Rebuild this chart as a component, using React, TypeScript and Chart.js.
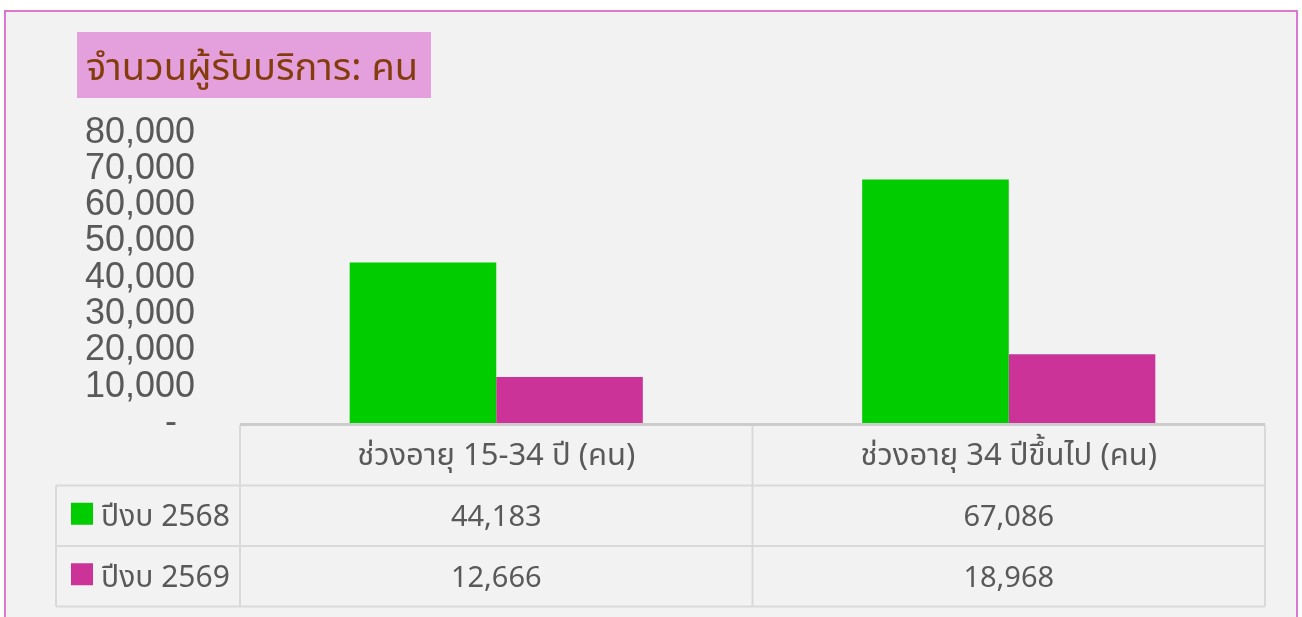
import React, { useEffect, useRef } from "react";
import { Chart, registerables } from "chart.js";

Chart.register(...registerables);

const categories = ["ช่วงอายุ 15-34 ปี (คน)", "ช่วงอายุ 34 ปีขึ้นไป (คน)"];
const seriesLabels = ["ปีงบ 2568", "ปีงบ 2569"];
const values2568 = [44183, 67086];
const values2569 = [12666, 18968];
const seriesColors = ["#00cc00", "#cc3399"];
const titleText = "จำนวนผู้รับบริการ: คน";
const yMax = 80000;
const yStep = 10000;

const THAI = "'Noto Sans', 'Noto Sans Thai', 'Noto Sans Thai UI', 'Noto Sans Thai Looped', Garuda, Loma, Kinnari, Waree, Norasi, 'Tlwg Typo', sans-serif";

const fmt = (v: number) => v.toLocaleString("en-US");

const decorPlugin = {
  id: "decor",
  beforeDraw(chart: any) {
    const ctx = chart.ctx;
    ctx.save();
    ctx.fillStyle = "#ffffff";
    ctx.fillRect(0, 0, chart.width, chart.height);
    ctx.fillStyle = "#f2f2f2";
    ctx.fillRect(5, 11, 1292, 620);
    ctx.strokeStyle = "#dc77d6";
    ctx.lineWidth = 2;
    ctx.strokeRect(5, 11, 1292, 620);
    ctx.fillStyle = "#e4a0dc";
    ctx.fillRect(77, 32, 354, 66);
    ctx.fillStyle = "#843c0c";
    ctx.font = `38px ${THAI}`;
    ctx.textAlign = "left";
    ctx.textBaseline = "middle";
    ctx.fillText(titleText, 86, 69);
    ctx.restore();
  },
  afterDraw(chart: any) {
    const ctx = chart.ctx;
    const xs = chart.scales.x;
    const area = chart.chartArea;
    const n = categories.length;
    const cw = (area.right - area.left) / n;
    const top = area.bottom + 2;
    const rowH = 60.5;
    const leftCol = 56;
    const rows = [values2568, values2569];
    ctx.save();
    ctx.strokeStyle = "#d9d9d9";
    ctx.lineWidth = 2;
    ctx.beginPath();
    for (let i = 0; i <= n; i++) {
      const x = area.left + i * cw;
      ctx.moveTo(x, top);
      ctx.lineTo(x, top + rowH * 3);
    }
    ctx.moveTo(leftCol, top + rowH);
    ctx.lineTo(leftCol, top + rowH * 3);
    for (let r = 1; r <= 3; r++) {
      ctx.moveTo(leftCol, top + rowH * r);
      ctx.lineTo(area.right, top + rowH * r);
    }
    ctx.stroke();
    ctx.strokeStyle = "#cccccc";
    ctx.lineWidth = 3;
    ctx.beginPath();
    ctx.moveTo(area.left, area.bottom + 1.5);
    ctx.lineTo(area.right, area.bottom + 1.5);
    ctx.stroke();

    ctx.fillStyle = "#595959";
    ctx.textAlign = "center";
    ctx.textBaseline = "middle";
    categories.forEach((c, i) => {
      const cx = xs.getPixelForValue(i);
      ctx.font = `31px ${THAI}`;
      ctx.fillText(c, cx, top + rowH / 2 + 1);
      ctx.font = `29px ${THAI}`;
      rows.forEach((vals, r) => {
        ctx.fillText(fmt(vals[i]), cx, top + rowH * (r + 1.5) + 2);
      });
    });
    ctx.textAlign = "left";
    ctx.font = `30px ${THAI}`;
    seriesLabels.forEach((s, r) => {
      const cy = top + rowH * (r + 1.5);
      ctx.fillStyle = seriesColors[r];
      ctx.fillRect(71, cy - 13, 22, 22);
      ctx.fillStyle = "#595959";
      ctx.fillText(s, 101, cy + 2);
    });
    ctx.restore();
  },
};

export default function App() {
  const ref = useRef<HTMLCanvasElement>(null);
  useEffect(() => {
    if (!ref.current) return;
    const chart = new Chart(ref.current, {
      type: "bar",
      data: {
        labels: categories,
        datasets: [
          { label: seriesLabels[0], data: values2568, backgroundColor: seriesColors[0], borderWidth: 0 },
          { label: seriesLabels[1], data: values2569, backgroundColor: seriesColors[1], borderWidth: 0 },
        ],
      },
      options: {
        responsive: false,
        animation: false,
        devicePixelRatio: 1,
        layout: { padding: { left: 0, right: 37, top: 132.6, bottom: 194 } },
        datasets: { bar: { categoryPercentage: 0.572, barPercentage: 1 } },
        plugins: { legend: { display: false }, tooltip: { enabled: false }, title: { display: false } },
        scales: {
          x: { display: false },
          y: {
            min: 0,
            max: yMax,
            afterFit: (s: any) => { s.width = 240; },
            grid: { display: false, drawTicks: false },
            border: { display: false },
            ticks: {
              stepSize: yStep,
              autoSkip: false,
              padding: 45,
              color: "#595959",
              font: { family: "'Liberation Sans', Arial, sans-serif", size: 36 },
              callback: (v: any) => (Number(v) === 0 ? "-\u2002" : fmt(Number(v))),
            },
          },
        },
      },
      plugins: [decorPlugin],
    });
    return () => chart.destroy();
  }, []);
  return (
    <div style={{ position: "absolute", left: 0, top: 0, width: 1302, height: 617, overflow: "hidden" }}>
      <canvas ref={ref} width={1302} height={617} style={{ display: "block" }} />
    </div>
  );
}
